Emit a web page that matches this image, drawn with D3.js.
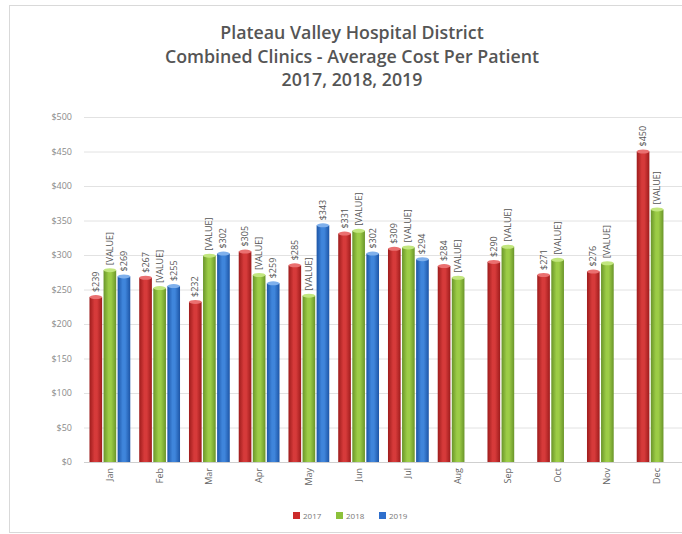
<!DOCTYPE html>
<html lang="en">
<head>
    <meta charset="UTF-8">
    <title>Plateau Valley Hospital District - Average Cost Per Patient</title>
    <script src="https://d3js.org/d3.v7.min.js"></script>
    <style>
        body { margin: 0; background: #fff; }
        svg { display: block; font-family: "Open Sans", Arial, sans-serif; }
    </style>
</head>
<body>
    <div id="chart"></div>
    <script>
        // data
        const months = ["Jan", "Feb", "Mar", "Apr", "May", "Jun", "Jul", "Aug", "Sep", "Oct", "Nov", "Dec"];
        const years = ["2017", "2018", "2019"];
        const cost2017 = [239, 267, 232, 305, 285, 331, 309, 284, 290, 271, 276, 450];
        const cost2018 = [278, 252, 299, 271, 241, 335, 311, 267, 312, 293, 288, 366];
        const cost2019 = [269, 255, 302, 259, 343, 302, 294, null, null, null, null, null];
        // the 2018 labels in the original are unresolved "[VALUE]" placeholders
        const labelText = {
            "2017": v => "$" + v,
            "2018": v => "[VALUE]",
            "2019": v => "$" + v
        };
        const yTicks = [0, 50, 100, 150, 200, 250, 300, 350, 400, 450, 500];
        const titleLines = ["Plateau Valley Hospital District",
                            "Combined Clinics - Average Cost Per Patient",
                            "2017, 2018, 2019"];

        const colors = {
            "2017": { dark: "#9e1c1c", mid: "#d63a3a", light: "#ea7070", legend: "#cc2b2b" },
            "2018": { dark: "#6a952a", mid: "#9ccc46", light: "#c2e67e", legend: "#8cc13a" },
            "2019": { dark: "#1d55a6", mid: "#3f85db", light: "#7fb0ec", legend: "#2f6fcc" }
        };

        const width = 682, height = 534;
        const svg = d3.select("#chart").append("svg")
            .attr("width", width)
            .attr("height", height);

        // chart frame
        svg.append("rect")
            .attr("x", 9.5).attr("y", 5.5)
            .attr("width", 690).attr("height", 527)
            .attr("fill", "#fff")
            .attr("stroke", "#d9d9d9");

        // title
        svg.append("g").selectAll("text")
            .data(titleLines)
            .enter().append("text")
            .attr("x", 352)
            .attr("y", (d, i) => 39 + i * 23.5)
            .attr("text-anchor", "middle")
            .attr("font-size", "17.8px")
            .attr("font-weight", "600")
            .attr("fill", "#555")
            .text(d => d);

        const x0 = d3.scaleBand()
            .domain(months)
            .range([85, 682])
            .paddingInner(0.18)
            .paddingOuter(0.09);

        const x1 = d3.scaleBand()
            .domain(years)
            .range([0, x0.bandwidth()])
            .paddingInner(0.1);

        const y = d3.scaleLinear()
            .domain([0, 500])
            .range([462, 117]);

        // gridlines
        svg.append("g").selectAll("line")
            .data(yTicks.filter(d => d > 0))
            .enter().append("line")
            .attr("x1", 84).attr("x2", 682)
            .attr("y1", d => y(d) + 0.5).attr("y2", d => y(d) + 0.5)
            .attr("stroke", "#e2e2e2");

        // y axis labels
        const yAxis = d3.axisLeft(y)
            .tickValues(yTicks)
            .tickSize(0)
            .tickPadding(0)
            .tickFormat(d => "$" + d);
        svg.append("g")
            .attr("transform", "translate(72,0)")
            .call(yAxis)
            .call(g => g.select(".domain").remove())
            .call(g => g.selectAll("text")
                .attr("font-size", "9px")
                .attr("font-family", "\"Open Sans\", Arial, sans-serif")
                .attr("fill", "#8a8a8a"));

        // gradients for the cylinder look
        const defs = svg.append("defs");
        years.forEach(yr => {
            const g = defs.append("linearGradient")
                .attr("id", "grad" + yr)
                .attr("x1", "0%").attr("x2", "100%")
                .attr("y1", "0%").attr("y2", "0%");
            g.append("stop").attr("offset", "0%").attr("stop-color", colors[yr].dark);
            g.append("stop").attr("offset", "40%").attr("stop-color", colors[yr].mid);
            g.append("stop").attr("offset", "60%").attr("stop-color", colors[yr].mid);
            g.append("stop").attr("offset", "100%").attr("stop-color", colors[yr].dark);
        });

        const series = {
            "2017": cost2017,
            "2018": cost2018,
            "2019": cost2019
        };

        const barData = [];
        months.forEach((m, i) => {
            years.forEach(yr => {
                const v = series[yr][i];
                if (v !== null) barData.push({ month: m, year: yr, value: v });
            });
        });

        const bars = svg.append("g").selectAll("g")
            .data(barData)
            .enter().append("g")
            .attr("transform", d => `translate(${x0(d.month) + x1(d.year)},0)`);

        bars.append("rect")
            .attr("x", 0)
            .attr("y", d => y(d.value))
            .attr("width", x1.bandwidth())
            .attr("height", d => y(0) - y(d.value))
            .attr("fill", d => `url(#grad${d.year})`);

        bars.append("ellipse")
            .attr("cx", x1.bandwidth() / 2)
            .attr("cy", d => y(d.value))
            .attr("rx", x1.bandwidth() / 2)
            .attr("ry", 2)
            .attr("fill", d => colors[d.year].light);

        // rotated data labels
        bars.append("text")
            .attr("transform", d => `translate(${x1.bandwidth() / 2 + 3},${y(d.value) - 5}) rotate(-90)`)
            .attr("text-anchor", "start")
            .attr("font-size", "9px")
            .attr("fill", "#555")
            .text(d => labelText[d.year](d.value));

        // baseline
        svg.append("line")
            .attr("x1", 84).attr("x2", 682)
            .attr("y1", y(0) + 0.5).attr("y2", y(0) + 0.5)
            .attr("stroke", "#cfcfcf");

        // x axis labels, rotated
        svg.append("g").selectAll("text")
            .data(months)
            .enter().append("text")
            .attr("transform", d => `translate(${x0(d) + x0.bandwidth() / 2 + 3},468) rotate(-90)`)
            .attr("text-anchor", "end")
            .attr("font-size", "9px")
            .attr("fill", "#666")
            .text(d => d);

        // legend
        const legend = svg.append("g")
            .attr("transform", "translate(293,516)");
        const item = legend.selectAll("g")
            .data(years)
            .enter().append("g")
            .attr("transform", (d, i) => `translate(${i * 43},0)`);
        item.append("rect")
            .attr("x", 0).attr("y", -4)
            .attr("width", 7).attr("height", 7)
            .attr("fill", d => colors[d].legend);
        item.append("text")
            .attr("x", 10).attr("y", 3)
            .attr("font-size", "8px")
            .attr("fill", "#777")
            .text(d => d);
    </script>
</body>
</html>
